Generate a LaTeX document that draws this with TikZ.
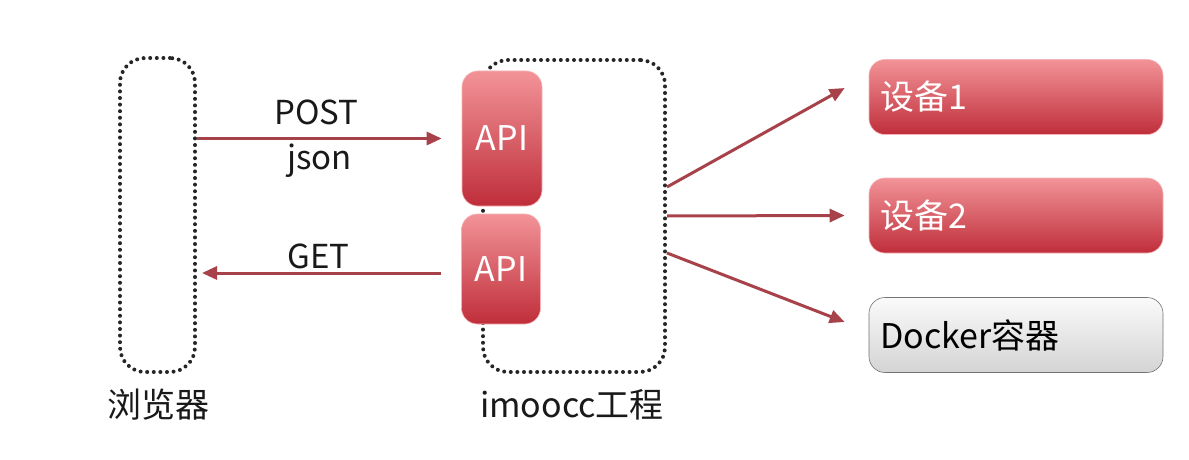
\documentclass[tikz,border=0pt]{standalone}
\usepackage{fontspec}
\setmainfont{Noto Sans CJK SC}
\usetikzlibrary{arrows.meta}
\definecolor{arrred}{HTML}{A8424A}
\definecolor{boxtop}{HTML}{F29398}
\definecolor{boxbot}{HTML}{BF2E3A}
\definecolor{grtop}{HTML}{FAFAFA}
\definecolor{grbot}{HTML}{D4D4D4}
\tikzset{
  dotbox/.style={draw=black!85, line width=4pt, dash pattern=on 0pt off 6.6pt, line cap=round, rounded corners=25pt, rectangle},
  redbox/.style={rectangle, rounded corners=16pt, draw=boxtop!70!white, line width=0.6pt, top color=boxtop, bottom color=boxbot, text=white, font=\fontsize{34}{36}\selectfont},
  devbox/.style={redbox, minimum width=294pt, minimum height=75pt, align=left, text width=272pt, inner sep=0pt},
  graybox/.style={devbox, draw=black!55, top color=grtop, bottom color=grbot, text=black},
  arr/.style={draw=arrred, line width=3pt, -{Triangle[length=15pt,width=13pt]}},
  lbl/.style={font=\fontsize{33}{36}\selectfont, text=black!90},
  clbl/.style={font=\fontsize{34}{36}\selectfont, text=black!90}
}
\begin{document}
\begin{tikzpicture}[x=1pt,y=-1pt]
\useasboundingbox[fill=white] (0,0) rectangle (1189,460);
% browser
\node[dotbox, minimum width=75pt, minimum height=314pt] (br) at (157.5,215) {};
\node[clbl] (brl) at (158,405) {浏览器};
% imoocc project
\node[dotbox, minimum width=182pt, minimum height=312pt] (im) at (574,216) {};
\node[clbl] (iml) at (572,405) {imoocc工程};
% API boxes
\node[redbox, minimum width=80pt, minimum height=135pt] (api1) at (502,138.5) {API};
\node[redbox, minimum width=79pt, minimum height=110pt] (api2) at (501,269) {API};
% devices
\node[devbox] (d1) at (1016,97) {设备1};
\node[devbox] (d2) at (1016,215.5) {设备2};
\node[graybox] (d3) at (1016,335) {Docker容器};
% browser <-> API
\draw[arr] (br.east |- api1.west) -- node[lbl, midway, xshift=-3pt, yshift=26pt] (post) {POST} node[lbl, midway, yshift=-22pt] (json) {json} ([xshift=-20pt]api1.west);
\draw[arr] ([xshift=-20pt,yshift=-4pt]api2.west) -- node[lbl, midway, xshift=-3pt, yshift=17pt] (get) {GET} ([xshift=5pt]br.east |- 0,273);
% project -> devices
\draw[arr] ([yshift=29pt]im.east) -- ([xshift=-24pt,yshift=9pt]d1.west);
\draw[arr] (im.east) -- ([xshift=-24pt]d2.west);
\draw[arr] ([yshift=-37pt]im.east) -- ([xshift=-24pt,yshift=13pt]d3.west);
\end{tikzpicture}
\end{document}
